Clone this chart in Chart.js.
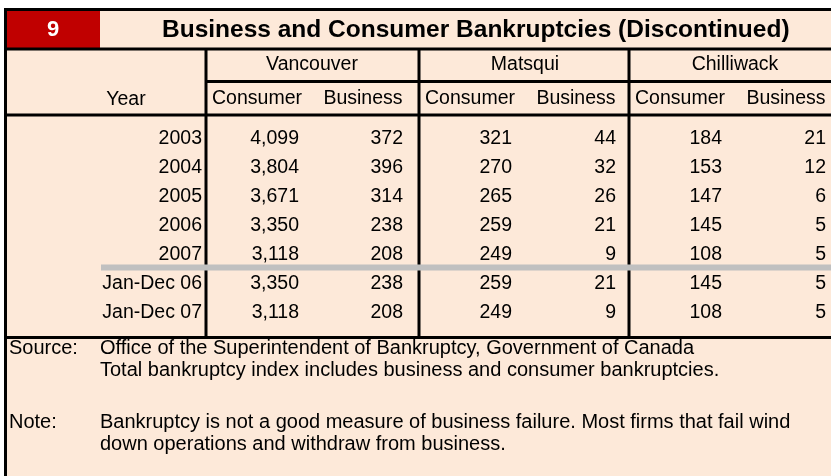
<!DOCTYPE html>
<html>
<head>
<meta charset="utf-8">
<title>Business and Consumer Bankruptcies (Discontinued)</title>
<script src="https://cdn.jsdelivr.net/npm/chart.js@4.4.1/dist/chart.umd.min.js"></script>
<style>
    html, body { margin: 0; padding: 0; background: #ffffff; }
    #wrap { width: 831px; height: 476px; position: relative; }
</style>
</head>
<body>
<div id="wrap"><canvas id="bankruptcyTable"></canvas></div>
<script>
// Table data
const tableNumber = '9';
const tableTitle = 'Business and Consumer Bankruptcies (Discontinued)';
const yearHeader = 'Year';
const rowLabels = ['2003', '2004', '2005', '2006', '2007', 'Jan-Dec 06', 'Jan-Dec 07'];
const cities = ['Vancouver', 'Matsqui', 'Chilliwack'];
const seriesNames = ['Consumer', 'Business'];

const vancouverConsumer = [4099, 3804, 3671, 3350, 3118, 3350, 3118];
const vancouverBusiness = [372, 396, 314, 238, 208, 238, 208];
const matsquiConsumer = [321, 270, 265, 259, 249, 259, 249];
const matsquiBusiness = [44, 32, 26, 21, 9, 21, 9];
const chilliwackConsumer = [184, 153, 147, 145, 108, 145, 108];
const chilliwackBusiness = [21, 12, 6, 5, 5, 5, 5];

const sourceLines = [
    'Office of the Superintendent of Bankruptcy, Government of Canada',
    'Total bankruptcy index includes business and consumer bankruptcies.'
];
const noteLines = [
    'Bankruptcy is not a good measure of business failure. Most firms that fail wind',
    'down operations and withdraw from business.'
];

// Layout (table units = px of the 831 wide sheet)
const PEACH = '#FDE9D9';
const RED = '#C00000';
const GREY = '#C0C0C0';
const FONT = '"Liberation Sans", Arial, sans-serif';
const cityLeft = [206, 419, 629];
const cityWidth = 212;
const valueRight = { Consumer: 93, Business: 197 };   // right edge of numbers inside a city block
const headerCenter = { Consumer: 51, Business: 157 };

const cityValues = [
    [vancouverConsumer, vancouverBusiness],
    [matsquiConsumer, matsquiBusiness],
    [chilliwackConsumer, chilliwackBusiness]
];

const datasets = [];
cities.forEach((city, c) => {
    seriesNames.forEach((name, s) => {
        const values = cityValues[c][s];
        datasets.push({
            label: city + ' ' + name,
            data: values.map((v, i) => ({ x: cityLeft[c] + valueRight[name], y: rowLabels[i], v: v })),
            pointRadius: 0,
            pointHoverRadius: 0
        });
    });
});

const tablePlugin = {
    id: 'tableDrawing',
    beforeDraw(chart) {
        const { ctx, width, height, scales: { x } } = chart;
        ctx.save();
        ctx.fillStyle = '#ffffff';
        ctx.fillRect(0, 0, width, height);
        ctx.fillStyle = PEACH;
        ctx.fillRect(x.getPixelForValue(5), 9, width, height);
        ctx.fillStyle = RED;
        ctx.fillRect(x.getPixelForValue(7), 11, x.getPixelForValue(100) - x.getPixelForValue(7), 37);
        ctx.restore();
    },
    afterDraw(chart) {
        const { ctx, width, height, scales: { x, y } } = chart;
        const px = v => x.getPixelForValue(v);
        ctx.save();

        // grid lines
        ctx.strokeStyle = '#000000';
        ctx.lineWidth = 3;
        const hLine = (x0, x1, yy) => { ctx.beginPath(); ctx.moveTo(x0, yy); ctx.lineTo(x1, yy); ctx.stroke(); };
        const vLine = (xx, y0, y1) => { ctx.beginPath(); ctx.moveTo(xx, y0); ctx.lineTo(xx, y1); ctx.stroke(); };
        hLine(px(4), width, 9.5);
        vLine(px(5.5), 8, height);
        hLine(px(4), width, 49);
        hLine(px(cityLeft[0]), width, 81.5);
        hLine(px(4), width, 115);
        hLine(px(4), width, 337.5);
        cityLeft.forEach(cx => vLine(px(cx), 49, 338));

        // grey separator between annual rows and year-to-date rows
        const sepY = (y.getPixelForValue(4) + y.getPixelForValue(5)) / 2 - 2;
        ctx.fillStyle = GREY;
        ctx.fillRect(px(101), sepY - 3, width, 6);

        // title
        ctx.textBaseline = 'middle';
        ctx.fillStyle = '#ffffff';
        ctx.font = 'bold 22px ' + FONT;
        ctx.textAlign = 'center';
        ctx.fillText(tableNumber, px(53), 30);
        ctx.fillStyle = '#000000';
        ctx.font = 'bold 24.5px ' + FONT;
        ctx.textAlign = 'left';
        ctx.fillText(tableTitle, px(162), 30);

        // headers
        ctx.font = '19.5px ' + FONT;
        ctx.textAlign = 'center';
        cities.forEach((city, c) => {
            ctx.fillText(city, px(cityLeft[c] + cityWidth / 2), 65);
            seriesNames.forEach(name => {
                ctx.fillText(name, px(cityLeft[c] + headerCenter[name]), 99);
            });
        });
        ctx.fillText(yearHeader, px(126), 100);

        // row labels
        ctx.textAlign = 'right';
        rowLabels.forEach((label, i) => {
            ctx.fillText(label, px(202), y.getPixelForValue(i));
        });

        // cell values
        chart.data.datasets.forEach((ds, d) => {
            const meta = chart.getDatasetMeta(d);
            meta.data.forEach((pt, i) => {
                ctx.fillText(ds.data[i].v.toLocaleString('en-US'), pt.x, pt.y);
            });
        });

        // source and note
        ctx.font = '20px ' + FONT;
        ctx.textAlign = 'left';
        ctx.fillText('Source:', px(9), 348);
        sourceLines.forEach((line, i) => ctx.fillText(line, px(100), 348 + i * 22));
        ctx.fillText('Note:', px(9), 422);
        noteLines.forEach((line, i) => ctx.fillText(line, px(100), 422 + i * 22));

        ctx.restore();
    }
};

new Chart(document.getElementById('bankruptcyTable'), {
    type: 'scatter',
    data: { datasets: datasets },
    options: {
        responsive: true,
        maintainAspectRatio: false,
        animation: false,
        events: [],
        layout: { padding: { top: 124.5, bottom: 148.5, left: 0, right: 0 } },
        scales: {
            x: { type: 'linear', min: 0, max: 831, display: false },
            y: { type: 'category', labels: rowLabels, offset: true, display: false }
        },
        plugins: {
            legend: { display: false },
            tooltip: { enabled: false }
        }
    },
    plugins: [tablePlugin]
});
</script>
</body>
</html>
